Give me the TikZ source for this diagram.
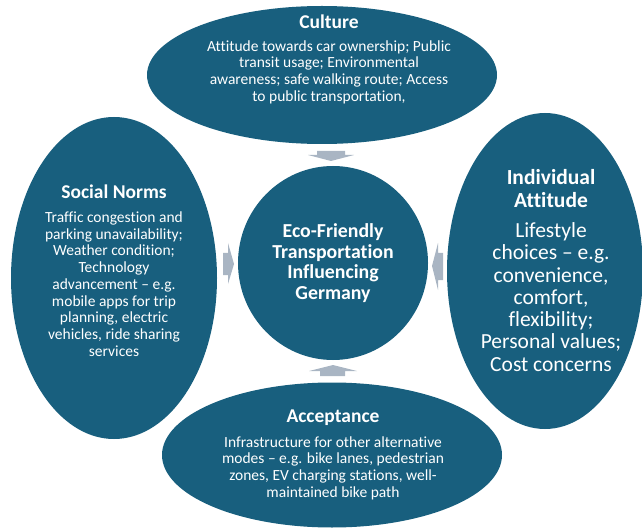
\documentclass[tikz,border=0pt]{standalone}
\usepackage{fontspec}
\setmainfont{Carlito}[Ligatures={NoCommon}]
\usetikzlibrary{shapes.geometric}
\definecolor{mainblue}{HTML}{185F7E}
\definecolor{arrowgray}{HTML}{A9B5C3}
\begin{document}
\begin{tikzpicture}[x=1pt,y=-1pt,
  blob/.style={ellipse, fill=mainblue, draw=none, inner sep=0pt},
  txt/.style={text=white, align=center, inner sep=0pt},
  ttl/.style={txt, font=\bfseries\fontsize{19.5}{21}\selectfont},
  body/.style={txt, font=\fontsize{15.5}{16.7}\selectfont},
  bigbody/.style={txt, font=\fontsize{21.5}{22.3}\selectfont},
  blockarrow/.style={fill=arrowgray, draw=none}]
\useasboundingbox (0,0) rectangle (642,529);
% ellipses
\node[blob, minimum width=350pt, minimum height=138pt] (culture) at (322,75) {};
\node[blob, minimum width=206pt, minimum height=322pt] (social) at (114,278) {};
\node[blob, minimum width=196pt, minimum height=316pt] (indiv) at (545,271) {};
\node[blob, minimum width=340pt, minimum height=145pt] (accept) at (332,455) {};
\node[blob, minimum width=190pt, minimum height=194pt] (center) at (333,263) {};
% texts
\node[ttl] (cultureT) at (329,22) {Culture};
\node[body] (cultureB) at (329,72) {Attitude towards car ownership; Public\\transit usage; Environmental\\awareness; safe walking route; Access\\to public transportation,};
\node[ttl] (socialT) at (114,192) {Social Norms};
\node[body] (socialB) at (114,284) {Traffic congestion and\\parking unavailability;\\Weather condition;\\Technology\\advancement -- e.g.\\mobile apps for trip\\planning, electric\\vehicles, ride sharing\\services};
\node[ttl, font=\bfseries\fontsize{21.5}{23}\selectfont] (indivT) at (551,188.5) {Individual\\Attitude};
\node[bigbody] (indivB) at (551,297) {Lifestyle\\choices -- e.g.\\convenience,\\comfort,\\flexibility;\\Personal values;\\Cost concerns};
\node[ttl] (acceptT) at (333,418) {Acceptance};
\node[body] (acceptB) at (333,468) {Infrastructure for other alternative\\modes -- e.g. bike lanes, pedestrian\\zones, EV charging stations, well-\\maintained bike path};
\node[txt, font=\bfseries\fontsize{19.8}{20.7}\selectfont] (centerT) at (333,263) {Eco-Friendly\\Transportation\\Influencing\\Germany};
% block arrows
\fill[blockarrow] (317,151) -- (345,151) -- (345,155) -- (354,155) -- (331,161) -- (308,155) -- (317,155) -- cycle;
\fill[blockarrow] (320,376) -- (345,376) -- (345,371) -- (357,371) -- (333,365) -- (309,371) -- (320,371) -- cycle;
\fill[blockarrow] (223,253) -- (228,253) -- (228,243) -- (234,264) -- (228,284) -- (228,275) -- (223,275) -- cycle;
\fill[blockarrow] (443,253) -- (438,253) -- (438,243) -- (432,266) -- (438,290) -- (438,280) -- (443,280) -- cycle;
\end{tikzpicture}
\end{document}
